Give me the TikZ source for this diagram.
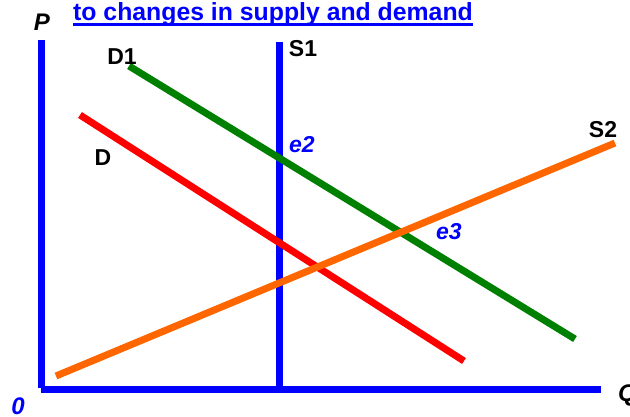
\documentclass[tikz,border=0pt]{standalone}
\usepackage{fontspec}
\setmainfont{Liberation Sans}
\definecolor{pblue}{RGB}{0,0,255}
\definecolor{pgreen}{RGB}{0,128,0}
\definecolor{pred}{RGB}{255,0,0}
\definecolor{porange}{RGB}{255,102,0}
\begin{document}
\begin{tikzpicture}[x=1pt,y=-1pt,
  curve/.style={line width=7pt},
  lbl/.style={font=\fontsize{23}{23}\selectfont\bfseries, inner sep=0pt},
  elbl/.style={font=\fontsize{23}{23}\selectfont\bfseries\itshape, text=pblue, inner sep=0pt},
  axlbl/.style={font=\fontsize{24}{24}\selectfont\bfseries\itshape, inner sep=0pt}]
\useasboundingbox (0,0) rectangle (630,417);
% axes
\coordinate (ptop) at (41.5,40);
\coordinate (pbot) at (41.5,388);
\coordinate (qleft) at (41,389.5);
\coordinate (qright) at (601,389.5);
\draw[pblue, line width=7pt] (ptop) -- (pbot);
\draw[pblue, line width=7pt] (qleft) -- (qright);
% S1
\coordinate (s1top) at (279.5,42);
\coordinate (s1bot) at (279.5,387);
\draw[pblue, curve] (s1top) -- (s1bot);
% D1
\coordinate (d1a) at (129,66);
\coordinate (d1b) at (575,339);
\draw[pgreen, curve] (d1a) -- (d1b);
% D
\coordinate (da) at (80,115);
\coordinate (db) at (464,361);
\draw[pred, curve] (da) -- (db);
% S2
\coordinate (s2a) at (56,376);
\coordinate (s2b) at (615,143);
\draw[porange, curve] (s2a) -- (s2b);
% labels
\node[axlbl] (P) at (42,22) {P};
\node[axlbl, text=pblue] (zero) at (18,406) {0};
\node[axlbl, anchor=west] (Q) at (618,395) {Q};
\node[lbl] (S1) at (303,49) {S1};
\node[lbl] (D1) at (122,57) {D1};
\node[lbl] (D) at (103,158) {D};
\node[lbl] (S2) at (603,130) {S2};
\node[elbl] (e2) at (302,145) {e2};
\node[elbl] (e3) at (449,232) {e3};
% title
\node[font=\fontsize{24.8}{24.8}\selectfont\bfseries, text=pblue, inner sep=0pt, anchor=base west] (title) at (73,21) {to changes in supply and demand};
\draw[pblue, line width=2.5pt] ([yshift=-3.5pt]title.base west) -- ([yshift=-3.5pt]title.base east);
\end{tikzpicture}
\end{document}
